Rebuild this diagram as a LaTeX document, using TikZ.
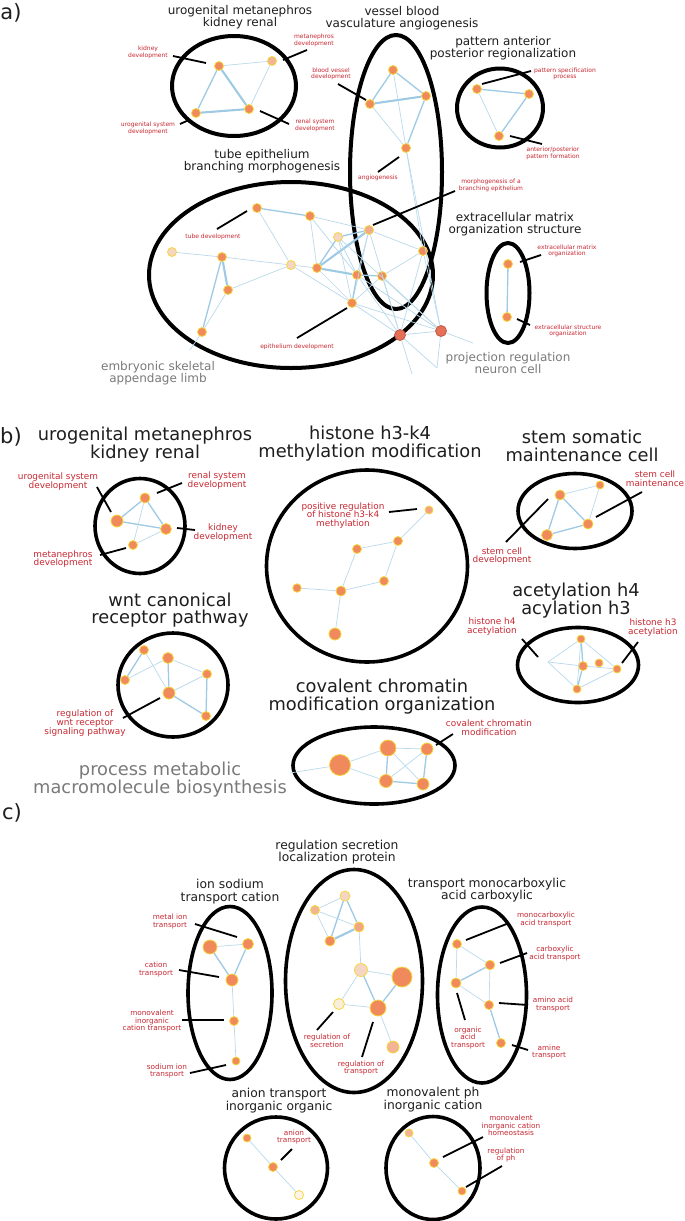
\documentclass[tikz,border=0pt]{standalone}
\usepackage{fontspec}
\setmainfont{DejaVu Sans}
\usetikzlibrary{shapes.geometric}
\definecolor{nor}{RGB}{240,138,92}
\definecolor{nbord}{RGB}{246,214,60}
\definecolor{npale}{RGB}{245,214,196}
\definecolor{npeach}{RGB}{243,180,148}
\definecolor{ncream}{RGB}{249,238,218}
\definecolor{nred}{RGB}{228,112,88}
\definecolor{nredb}{RGB}{196,86,66}
\definecolor{eblue}{RGB}{158,202,228}
\definecolor{eblue2}{RGB}{186,218,236}
\definecolor{labred}{RGB}{200,40,50}
\definecolor{ttl}{RGB}{30,30,30}
\definecolor{gry}{RGB}{122,122,122}
\tikzset{
  nd/.style={circle,inner sep=0pt,minimum size=#1,fill=nor,draw=nbord,line width=0.8pt},
  nd/.default=9,
  pale/.style={fill=npale},
  peach/.style={fill=npeach},
  cream/.style={fill=ncream},
  redn/.style={fill=nred,draw=nredb},
  eT/.style={draw=eblue2,line width=0.7pt},
  eM/.style={draw=eblue,line width=1.3pt},
  eK/.style={draw=eblue,line width=2.1pt},
  clus/.style={draw=black,line width=4pt,ellipse,inner sep=0pt},
  clusb/.style={draw=black,line width=3.6pt,ellipse,inner sep=0pt},
  ptrl/.style={draw=black,line width=1.8pt},
  ttlA/.style={align=center,inner sep=0pt,text=ttl,font=\fontsize{12}{11.8}\selectfont},
  ttlB/.style={align=center,inner sep=0pt,text=ttl,font=\fontsize{17.8}{17.3}\selectfont},
  ttlC/.style={align=center,inner sep=0pt,text=ttl,font=\fontsize{12.3}{12.7}\selectfont},
  grA/.style={align=center,inner sep=0pt,text=gry,font=\fontsize{12}{11.8}\selectfont},
  grB/.style={align=center,inner sep=0pt,text=gry,font=\fontsize{17.8}{17.3}\selectfont},
  labA/.style={align=center,inner sep=0pt,text=labred,font=\fontsize{6}{5.6}\selectfont},
  labB/.style={align=center,inner sep=0pt,text=labred,font=\fontsize{8.9}{8.9}\selectfont},
  labC/.style={align=center,inner sep=0pt,text=labred,font=\fontsize{7.3}{7.5}\selectfont},
  panel/.style={inner sep=0pt,text=ttl,font=\fontsize{21}{21}\selectfont},
}
\newcommand\ptr[3]{\coordinate (#1s) at (#2); \coordinate (#1e) at (#3); \draw[ptrl] (#1s) -- (#1e);}
\begin{document}
\begin{tikzpicture}[x=1pt,y=-1pt]
\fill[white] (0,0) rectangle (685,1221);
\useasboundingbox (0,0) rectangle (685,1221);

%%%%%%%%%%%%%%%% PANEL A %%%%%%%%%%%%%%%%
\node[panel] (pA) at (11,13) {a)};
% clusters
\node[clus,minimum width=124,minimum height=100] (ea1) at (234,86) {};
\node[clus,minimum width=92,minimum height=274] (ea2) at (396,172) {};
\node[clus,minimum width=86,minimum height=79] (ea3) at (500,108) {};
\node[clus,minimum width=284,minimum height=186] (ea4) at (291,275) {};
\node[clus,minimum width=43,minimum height=100] (ea5) at (508,293) {};
% titles
\node[ttlA] (ta1) at (240,17.5) {urogenital metanephros\\kidney renal};
\node[ttlA] (ta2) at (402,18) {vessel blood\\vasculature angiogenesis};
\node[ttlA] (ta3) at (503,48) {pattern anterior\\posterior regionalization};
\node[ttlA] (ta4) at (262,161) {tube epithelium\\branching morphogenesis};
\node[ttlA] (ta5) at (515,224) {extracellular matrix\\organization structure};
\node[grA] (ga1) at (158,373) {embryonic skeletal\\appendage limb};
\node[grA] (ga2) at (508,363) {projection regulation\\neuron cell};
% cluster 1 nodes
\node[nd] (a1k) at (219,66) {};
\node[nd,peach] (a1m) at (272,61) {};
\node[nd] (a1u) at (196,113) {};
\node[nd] (a1r) at (249,109) {};
% cluster 2 nodes
\node[nd] (a2a) at (393,70) {};
\node[nd] (a2b) at (370,104) {};
\node[nd] (a2c) at (426,96) {};
\node[nd] (a2d) at (406,148) {};
% cluster 3
\node[nd] (a3a) at (477,89) {};
\node[nd] (a3b) at (529,94) {};
\node[nd] (a3c) at (499,136) {};
% cluster 5
\node[nd] (a5a) at (508,264) {};
\node[nd] (a5b) at (507,317) {};
% cluster 4
\node[nd] (t1) at (257,208) {};
\node[nd] (t2) at (310,216) {};
\node[nd,fill=npeach!80!nor] (t3) at (369,230) {};
\node[nd,pale] (t4) at (338,237) {};
\node[nd,pale] (t5) at (172,252) {};
\node[nd] (t6) at (222,257) {};
\node[nd,pale] (t7) at (291,265) {};
\node[nd] (t8) at (317,268) {};
\node[nd] (t9) at (423,251) {};
\node[nd] (t10) at (228,290) {};
\node[nd] (t11) at (357,275) {};
\node[nd] (t12) at (382,276) {};
\node[nd] (t13) at (352,303) {};
\node[nd] (t14) at (202,332) {};
\node[nd=11,redn] (t15) at (400,335) {};
\node[nd=11,redn] (t16) at (441,331) {};
\coordinate (fa1) at (190,350);
\coordinate (fa2) at (437,368);
\coordinate (fa3) at (473,343);
\coordinate (fa4) at (412,374);
% edges cluster 1
\draw[eT] (a1k)--(a1m); \draw[eM] (a1k)--(a1u); \draw[eK] (a1k)--(a1r);
\draw[eK] (a1u)--(a1r); \draw[eT] (a1m)--(a1r);
% edges cluster 2
\draw[eM] (a2a)--(a2b); \draw[eM] (a2a)--(a2c); \draw[eK] (a2b)--(a2c);
\draw[eT] (a2b)--(a2d); \draw[eM] (a2c)--(a2d); \draw[eT] (a2a)--(a2d);
\draw[eT] (a2d)--(t9); \draw[eT] (a2d)--(t16);
% edges cluster 3
\draw[eM] (a3a)--(a3b); \draw[eT] (a3a)--(a3c); \draw[eM] (a3b)--(a3c);
% edges cluster 5
\draw[eM] (a5a)--(a5b);
% edges cluster 4
\draw[eM] (t1)--(t2); \draw[eT] (t1)--(t7); \draw[eT] (t2)--(t8);
\draw[eT] (t2)--(t3); \draw[eT] (t2)--(t11); \draw[eM] (t3)--(t4);
\draw[eK] (t3)--(t8); \draw[eM] (t4)--(t8); \draw[eT] (t3)--(t11);
\draw[eT] (t3)--(t13); \draw[eT] (t4)--(t11); \draw[eT] (t4)--(t13);
\draw[eT] (t5)--(t6); \draw[eK] (t6)--(t10); \draw[eM] (t6)--(t14);
\draw[eT] (t10)--(t14); \draw[eT] (t10)--(t7); \draw[eT] (t6)--(t7);
\draw[eT] (t7)--(t8); \draw[eT] (t7)--(t13); \draw[eK] (t8)--(t11);
\draw[eM] (t11)--(t12); \draw[eT] (t8)--(t13); \draw[eM] (t11)--(t13);
\draw[eT] (t12)--(t13); \draw[eT] (t12)--(t15); \draw[eT] (t13)--(t15);
\draw[eT] (t13)--(t16); \draw[eT] (t11)--(t16); \draw[eT] (t11)--(t15);
\draw[eT] (t9)--(t15); \draw[eT] (t9)--(t16); \draw[eT] (t3)--(t9);
\draw[eT] (t12)--(t9); \draw[eT] (t15)--(t16); \draw[eT] (t3)--(t15);
\draw[eT] (t4)--(t16); \draw[eT] (t12)--(t16);
\draw[eT] (t14)--(fa1); \draw[eT] (t15)--(fa2); \draw[eT] (t16)--(fa3);
\draw[eT] (t16)--(fa2); \draw[eT] (t15)--(fa4);
% labels a
\node[labA] (la1) at (148,52) {kidney\\development};
\node[labA] (la2) at (314,40) {metanephros\\development};
\node[labA] (la3) at (148,128) {urogenital system\\development};
\node[labA] (la4) at (315,125) {renal system\\development};
\node[labA] (la5) at (331,74) {blood vessel\\development};
\node[labA] (la6) at (378,178) {angiogenesis};
\node[labA] (la7) at (565,74) {pattern specification\\process};
\node[labA] (la8) at (553,153) {anterior/posterior\\pattern formation};
\node[labA] (la9) at (213,237) {tube development};
\node[labA] (la10) at (491,185) {morphogenesis of a\\branching epithelium};
\node[labA] (la11) at (297,347) {epithelium development};
\node[labA] (la12) at (567,251) {extracellular matrix\\organization};
\node[labA] (la13) at (568,331) {extracellular structure\\organization};
% pointers a
\ptr{pa1}{173,56}{206,63}
\ptr{pa2}{283,60}{307,50}
\ptr{pa3}{180,124}{189,120}
\ptr{pa4}{260,111}{289,124}
\ptr{pa5}{338,84}{366,100}
\ptr{pa6}{378,172}{399,157}
\ptr{pa7}{482,84}{531,71}
\ptr{pa8}{510,136}{542,144}
\ptr{pa9}{217,229}{247,211}
\ptr{pa10}{373,225}{455,191}
\ptr{pa11}{297,338}{347,308}
\ptr{pa12}{520,262}{541,255}
\ptr{pa13}{517,319}{530,325}

%%%%%%%%%%%%%%%% PANEL B %%%%%%%%%%%%%%%%
\node[panel] (pB) at (11,437) {b)};
\node[clusb,minimum width=90,minimum height=95] (eb1) at (140,526) {};
\node[clusb,minimum width=201,minimum height=192] (eb2) at (367,566) {};
\node[clusb,minimum width=114,minimum height=75] (eb3) at (575,511) {};
\node[clusb,minimum width=121,minimum height=75] (eb4) at (578,665) {};
\node[clusb,minimum width=110,minimum height=104] (eb5) at (173,685) {};
\node[clusb,minimum width=162,minimum height=77] (eb6) at (374,765.5) {};
\node[ttlB] (tb1) at (145,444.5) {urogenital metanephros\\kidney renal};
\node[ttlB] (tb2) at (370,443.5) {histone h3-k4\\methylation modification};
\node[ttlB] (tb3) at (582,446) {stem somatic\\maintenance cell};
\node[ttlB] (tb4) at (576,600.5) {acetylation h4\\acylation h3};
\node[ttlB] (tb5) at (170,610) {wnt canonical\\receptor pathway};
\node[ttlB] (tb6) at (382,696.5) {covalent chromatin\\modification organization};
\node[grB] (gb1) at (160,779.5) {process metabolic\\macromolecule biosynthesis};
% b1
\node[nd=10] (b1p) at (145,498) {};
\node[nd=12] (b1q) at (117,521) {};
\node[nd=11] (b1r) at (166,529) {};
\node[nd=9] (b1s) at (133,545) {};
\draw[eM] (b1p)--(b1q); \draw[eM] (b1p)--(b1r); \draw[eM] (b1q)--(b1r);
\draw[eT] (b1p)--(b1s); \draw[eT] (b1r)--(b1s);
% b2
\node[nd=8,fill=npeach!60!nor] (b2a) at (429,510) {};
\node[nd=9] (b2b) at (398,541) {};
\node[nd=9] (b2c) at (357,549) {};
\node[nd=9] (b2d) at (384,581) {};
\node[nd=10] (b2e) at (341,591) {};
\node[nd=8.5] (b2f) at (297,588) {};
\node[nd=12] (b2g) at (335,634) {};
\draw[eT] (b2a)--(b2b); \draw[eT] (b2b)--(b2c); \draw[eT] (b2b)--(b2d);
\draw[eT] (b2c)--(b2e); \draw[eT] (b2d)--(b2e); \draw[eT] (b2f)--(b2e);
\draw[eT] (b2e)--(b2g);
% b3
\node[nd=10] (b3a) at (560,495) {};
\node[nd=8] (b3b) at (600,485) {};
\node[nd=11] (b3c) at (547,535) {};
\node[nd=10] (b3d) at (588,524) {};
\draw[eT] (b3a)--(b3b); \draw[eM] (b3a)--(b3c); \draw[eM] (b3a)--(b3d);
\draw[eM] (b3c)--(b3d); \draw[eT] (b3b)--(b3d);
% b4
\node[nd=8] (b4a) at (581,639) {};
\node[nd=9] (b4b) at (583,666) {};
\node[nd=8] (b4c) at (599,663) {};
\node[nd=8] (b4d) at (617,669) {};
\node[nd=8] (b4e) at (577,689) {};
\coordinate (b4x) at (548,662);
\draw[eM] (b4a)--(b4b); \draw[eT] (b4a)--(b4e); \draw[eM] (b4b)--(b4e);
\draw[eT] (b4a)--(b4d); \draw[eT] (b4b)--(b4d); \draw[eT] (b4e)--(b4d);
\draw[eT] (b4x)--(b4a); \draw[eT] (b4x)--(b4b); \draw[eT] (b4x)--(b4e);
% b5
\node[nd=9] (b5a) at (144,650) {};
\node[nd=11] (b5b) at (168,658) {};
\node[nd=9] (b5c) at (125,680) {};
\node[nd=9] (b5d) at (207,674) {};
\node[nd=12] (b5e) at (169,693) {};
\node[nd=9] (b5f) at (206,716) {};
\draw[eM] (b5a)--(b5c); \draw[eT] (b5a)--(b5e); \draw[eT] (b5b)--(b5c);
\draw[eM] (b5b)--(b5e); \draw[eT] (b5b)--(b5d); \draw[eM] (b5d)--(b5f);
\draw[eT] (b5e)--(b5d); \draw[eM] (b5e)--(b5f);
% b6
\node[nd=21] (b6a) at (340,765) {};
\node[nd=16] (b6b) at (388,748) {};
\node[nd=12] (b6c) at (427,749) {};
\node[nd=13] (b6d) at (386,781) {};
\node[nd=12] (b6e) at (423,784) {};
\coordinate (b6x) at (290,773);
\draw[eT] (b6a)--(b6b); \draw[eT] (b6a)--(b6d); \draw[eT] (b6b)--(b6c);
\draw[eM] (b6b)--(b6d); \draw[eT] (b6b)--(b6e); \draw[eT] (b6c)--(b6d);
\draw[eM] (b6c)--(b6e); \draw[eM] (b6d)--(b6e); \draw[eT] (b6a)--(b6x);
% labels b
\node[labB] (lb1) at (58,481.5) {urogenital system\\development};
\node[labB] (lb2) at (217,480.5) {renal system\\development};
\node[labB] (lb3) at (223,532.5) {kidney\\development};
\node[labB] (lb4) at (63,559) {metanephros\\development};
\node[labB] (lb5) at (343,515.5) {positive regulation\\of histone h3-k4\\methylation};
\node[labB] (lb6) at (655,478.5) {stem cell\\maintenance};
\node[labB] (lb7) at (502,556) {stem cell\\development};
\node[labB] (lb8) at (492,626.5) {histone h4\\acetylation};
\node[labB] (lb9) at (653,627.5) {histone h3\\acetylation};
\node[labB] (lb10) at (85,723) {regulation of\\wnt receptor\\signaling pathway};
\node[labB] (lb11) at (489,727.5) {covalent chromatin\\modification};
% pointers b
\ptr{pb1}{97,487}{111,512}
\ptr{pb2}{157,493}{182,483}
\ptr{pb3}{177,528}{195,530}
\ptr{pb4}{100,555}{126,548}
\ptr{pb5}{389,512}{417,509}
\ptr{pb6}{596,517}{642,492}
\ptr{pb7}{506,542}{548,499}
\ptr{pb8}{522,639}{538,657}
\ptr{pb9}{638,642}{622,663}
\ptr{pb10}{123,718}{160,698}
\ptr{pb11}{436,745}{453,734}

%%%%%%%%%%%%%%%% PANEL C %%%%%%%%%%%%%%%%
\node[panel] (pC) at (12,813) {c)};
\node[clusb,minimum width=84,minimum height=173] (ec1) at (230,993) {};
\node[clusb,minimum width=137,minimum height=223] (ec2) at (354,981) {};
\node[clusb,minimum width=89,minimum height=176] (ec3) at (482,995) {};
\node[clusb,minimum width=103,minimum height=102] (ec4) at (276,1168) {};
\node[clusb,minimum width=94,minimum height=103] (ec5) at (433,1168) {};
\node[ttlC] (tc1) at (230,891.5) {ion sodium\\transport cation};
\node[ttlC] (tc2) at (337,852) {regulation secretion\\localization protein};
\node[ttlC] (tc3) at (487,890) {transport monocarboxylic\\acid carboxylic};
\node[ttlC] (tc4) at (279,1100.5) {anion transport\\inorganic organic};
\node[ttlC] (tc5) at (433,1099.5) {monovalent ph\\inorganic cation};
% c1
\node[nd=14] (c1a) at (210,947) {};
\node[nd=11] (c1b) at (248,944) {};
\node[nd=12] (c1c) at (232,980) {};
\node[nd=9] (c1d) at (234,1021) {};
\node[nd=8] (c1e) at (236,1061) {};
\draw[eT] (c1a)--(c1b); \draw[eM] (c1a)--(c1c); \draw[eM] (c1b)--(c1c);
\draw[eT] (c1c)--(c1d); \draw[eT] (c1d)--(c1e);
% c2
\node[nd=10,pale] (c2a) at (345,896) {};
\node[nd=9,peach] (c2b) at (315,910) {};
\node[nd=10,fill=npeach!70!nor] (c2c) at (359,927) {};
\node[nd=10] (c2d) at (330,941) {};
\node[nd=13,pale] (c2e) at (361,970) {};
\node[nd=20] (c2f) at (402,977) {};
\node[nd=16] (c2g) at (378,1008) {};
\node[nd=11,cream] (c2h) at (339,1004) {};
\node[nd=12,peach] (c2i) at (393,1047) {};
\draw[eT] (c2a)--(c2b); \draw[eM] (c2a)--(c2c); \draw[eM] (c2a)--(c2d);
\draw[eT] (c2b)--(c2c); \draw[eT] (c2b)--(c2d); \draw[eK] (c2d)--(c2c);
\draw[eT] (c2c)--(c2e); \draw[eT] (c2e)--(c2f); \draw[eT] (c2e)--(c2h);
\draw[eM] (c2e)--(c2g); \draw[eT] (c2h)--(c2g); \draw[eM] (c2g)--(c2f);
\draw[eT] (c2g)--(c2i);
% c3
\node[nd=9] (c3a) at (457,944) {};
\node[nd=9.5] (c3b) at (490,965) {};
\node[nd=10] (c3c) at (456,983) {};
\node[nd=9] (c3d) at (489,1005) {};
\node[nd=9] (c3e) at (501,1043) {};
\draw[eT] (c3a)--(c3b); \draw[eT] (c3a)--(c3c); \draw[eM] (c3c)--(c3b);
\draw[eT] (c3c)--(c3d); \draw[eT] (c3b)--(c3d); \draw[eM] (c3d)--(c3e);
% c4
\node[nd=8] (c4a) at (247,1138) {};
\node[nd=9] (c4b) at (273,1167) {};
\node[nd=9,fill=ncream!60] (c4c) at (299,1195) {};
\draw[eT] (c4a)--(c4b); \draw[eT] (c4b)--(c4c);
% c5
\node[nd=8,peach] (c5a) at (409,1133) {};
\node[nd=9] (c5b) at (434,1163) {};
\node[nd=8] (c5c) at (462,1191) {};
\draw[eT] (c5a)--(c5b); \draw[eT] (c5b)--(c5c);
% labels c
\node[labC] (lc1) at (170,921.5) {metal ion\\transport};
\node[labC] (lc2) at (156,969.5) {cation\\transport};
\node[labC] (lc3) at (152,1021) {monovalent\\inorganic\\cation transport};
\node[labC] (lc4) at (167,1071) {sodium ion\\transport};
\node[labC] (lc5) at (327,1041) {regulation of\\secretion};
\node[labC] (lc6) at (361,1068) {regulation of\\transport};
\node[labC] (lc7) at (546,919.5) {monocarboxylic\\acid transport};
\node[labC] (lc8) at (555,953.5) {carboxylic\\acid transport};
\node[labC] (lc9) at (553,1004.5) {amino acid\\transport};
\node[labC] (lc10) at (468,1037.5) {organic\\acid\\transport};
\node[labC] (lc11) at (549,1052) {amine\\transport};
\node[labC] (lc12) at (294,1137) {anion\\transport};
\node[labC] (lc13) at (511,1125.5) {monovalent\\inorganic cation\\homeostasis};
\node[labC] (lc14) at (506,1155) {regulation\\of ph};
% pointers c
\ptr{pc1}{195,924}{237,937}
\ptr{pc2}{179,970}{219,977}
\ptr{pc3}{182,1020}{224,1020}
\ptr{pc4}{190,1073}{226,1065}
\ptr{pc5}{317,1030}{333,1012}
\ptr{pc6}{362,1057}{373,1022}
\ptr{pc7}{466,940}{509,923}
\ptr{pc8}{500,963}{527,953}
\ptr{pc9}{499,1003}{528,1005}
\ptr{pc10}{457,993}{465,1020}
\ptr{pc11}{512,1045}{528,1050}
\ptr{pc12}{281,1160}{292,1149}
\ptr{pc13}{443,1157}{483,1137}
\ptr{pc14}{466,1187}{502,1166}
\end{tikzpicture}
\end{document}
